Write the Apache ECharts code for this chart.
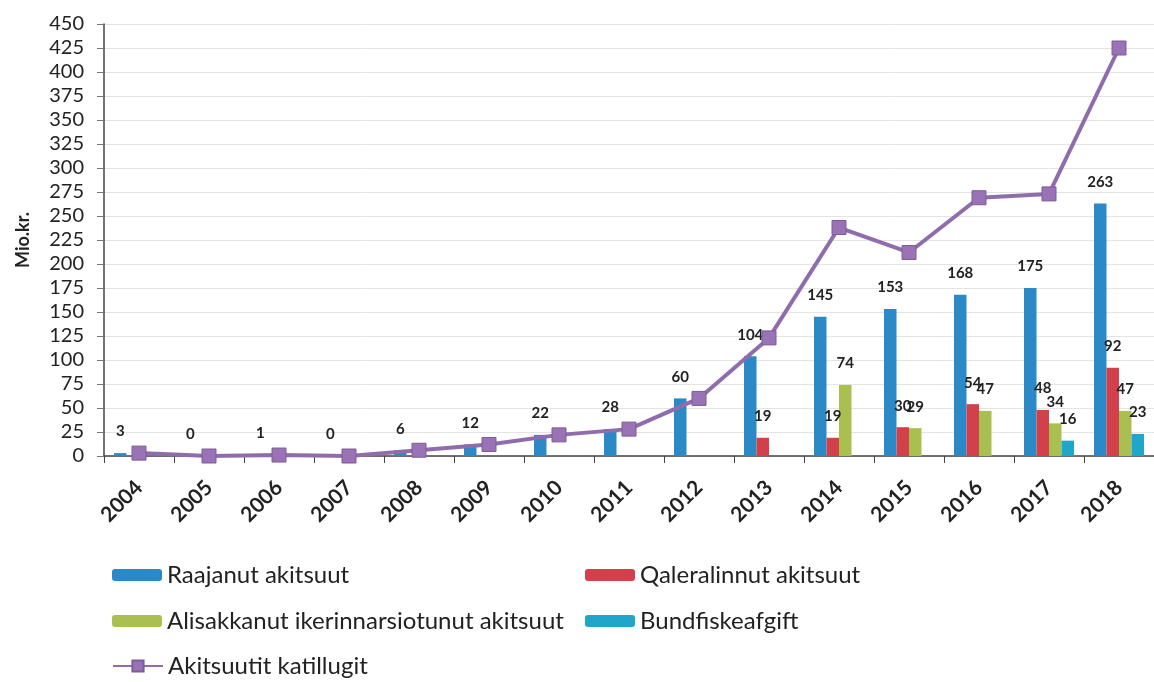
<!DOCTYPE html>
<html><head><meta charset="utf-8">
<script src="https://cdn.jsdelivr.net/npm/echarts@6/dist/echarts.min.js"></script>
<style>html,body{margin:0;padding:0;background:#fff}#c{width:1154px;height:682px}</style>
</head><body><div id="c"></div>
<script>
const years = ['2004','2005','2006','2007','2008','2009','2010','2011','2012','2013','2014','2015','2016','2017','2018'];
const raajanut = [3,0,1,0,6,12,22,28,60,104,145,153,168,175,263];
const qaleralinnut = [null,null,null,null,null,null,null,null,null,19,19,30,54,48,92];
const alisakkanut = [null,null,null,null,null,null,null,null,null,null,74,29,47,34,47];
const bundfisk = [null,null,null,null,null,null,null,null,null,null,null,null,null,16,23];
const katillugit = [3,0,1,0,6,12,22,28,60,123,238,212,269,273,425];
const names = ['Raajanut akitsuut','Qaleralinnut akitsuut','Alisakkanut ikerinnarsiotunut akitsuut','Bundfiskeafgift','Akitsuutit katillugit'];
const colors = ['#2b8ac6','#d2404b','#a9c050','#20a6c8','#8f6cab'];

const font = 'Lato, "Open Sans", sans-serif';
const chart = echarts.init(document.getElementById('c'));
const lbl = {show:true, position:'top', distance:14, color:'#222', fontSize:15, fontWeight:'bold', fontFamily:font};
function bar(i, data){
  return {name:names[i], type:'bar', data:data, barWidth:12.5, barGap:'0%',
    itemStyle:{color:colors[i]}, label:lbl};
}
const legTxt = {color:'#222', fontSize:24, fontFamily:font};
function leg(i, left, top){
  return {data:[names[i]], left:left, top:top, itemWidth:50, itemHeight:12, itemGap:0,
    textStyle:legTxt, padding:0};
}
chart.setOption({
  animation:false,
  grid:{left:104, right:-4, top:24, bottom:226},
  xAxis:{type:'category', data:years,
    axisLine:{lineStyle:{color:'#444', width:1.5}},
    axisTick:{show:true, length:7, lineStyle:{color:'#444'}},
    axisLabel:{rotate:45, color:'#222', fontSize:21, fontWeight:'bold', fontFamily:font, margin:28}},
  yAxis:{type:'value', min:0, max:450, interval:25,
    name:'Mio.kr.', nameLocation:'middle', nameGap:72, nameRotate:90,
    nameTextStyle:{color:'#222', fontSize:18, fontWeight:'bold', fontFamily:font},
    axisLine:{show:true, lineStyle:{color:'#444', width:1.5}},
    axisTick:{show:true, length:7, lineStyle:{color:'#777'}},
    axisLabel:{color:'#222', fontSize:20, fontFamily:font, margin:20},
    splitLine:{lineStyle:{color:'#e4e4e4'}}},
  legend:[
    leg(0,112,563),
    leg(1,585,563),
    leg(2,112,609),
    leg(3,585,609),
    {data:[names[4]], left:112, top:654, itemWidth:50, itemHeight:14, itemGap:0, textStyle:legTxt, padding:0}
  ],
  series:[
    bar(0, raajanut),
    bar(1, qaleralinnut),
    bar(2, alisakkanut),
    bar(3, bundfisk),
    {name:names[4], type:'line', data:katillugit, symbol:'rect', symbolSize:14,
     lineStyle:{color:colors[4], width:4}, itemStyle:{color:'#9a72b6', borderColor:'#7d5c98', borderWidth:1}, z:5}
  ]
});
</script></body></html>
